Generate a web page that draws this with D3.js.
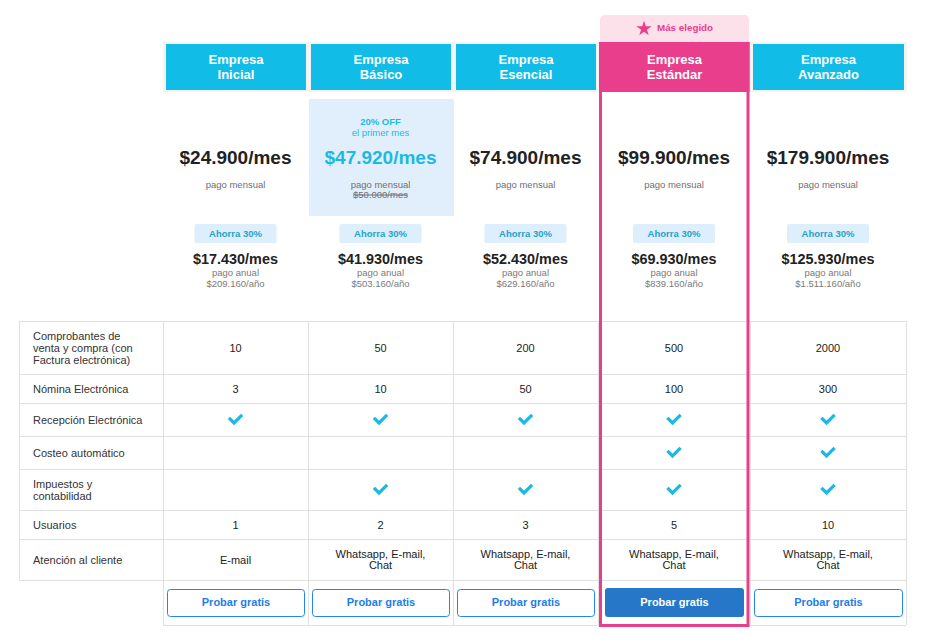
<!DOCTYPE html>
<html><head><meta charset="utf-8">
<script src="https://cdn.jsdelivr.net/npm/d3@7"></script>
<style>
body{margin:0;background:#fff}
svg{display:block;font-family:"Liberation Sans",Arial,Helvetica,sans-serif}
</style>
</head><body>
<svg id="chart" width="939" height="635"></svg>
<script>
// ---------- DATA ----------
const plans = ["Empresa Inicial","Empresa Básico","Empresa Esencial","Empresa Estándar","Empresa Avanzado"];
const featuredPlan = "Empresa Estándar";
const featuredTag = "Más elegido";
const monthlyPrice = [24900, 47920, 74900, 99900, 179900];
const originalPrice = [null, 50000, null, null, null];
const promoLines = [null, ["20% OFF","el primer mes"], null, null, null];
const annualDiscount = [30, 30, 30, 30, 30];
const annualMonthly = [17430, 41930, 52430, 69930, 125930];
const annualTotal = [209160, 503160, 629160, 839160, 1511160];

const featureLabels = [
  "Comprobantes de venta y compra (con Factura electrónica)",
  "Nómina Electrónica",
  "Recepción Electrónica",
  "Costeo automático",
  "Impuestos y contabilidad",
  "Usuarios",
  "Atención al cliente"
];
const comprobantes = [10, 50, 200, 500, 2000];
const nomina = [3, 10, 50, 100, 300];
const recepcion = [true, true, true, true, true];
const costeo = [false, false, false, true, true];
const impuestos = [false, true, true, true, true];
const usuarios = [1, 2, 3, 5, 10];
const atencion = ["E-mail", "Whatsapp, E-mail, Chat", "Whatsapp, E-mail, Chat", "Whatsapp, E-mail, Chat", "Whatsapp, E-mail, Chat"];
const featureValues = [comprobantes, nomina, recepcion, costeo, impuestos, usuarios, atencion];
const ctaLabel = "Probar gratis";

// ---------- LAYOUT ----------
const colEdges = [163, 308, 453, 598, 750, 906];
const labelLeft = 19;
const tableTop = 321;
const rowHeights = [53, 29, 33, 33, 41, 29, 41];
const buttonRowH = 45;

const C = {
  blue: "#11bce7", pink: "#e83e8c", pinkLight: "#fde1ea",
  grid: "#e0e0e0", dark: "#222", text: "#333", grey: "#6f6f6f",
  cyan: "#1cb9e4", badgeBg: "#ddeefc", badgeText: "#25a3c9",
  hiBg: "#e1effd", btn: "#2584ee", btnFill: "#2677c8"
};

const svg = d3.select("#chart");
const fmt = d3.formatLocale({decimal: ",", thousands: ".", grouping: [3], currency: ["$", ""]}).format("$,");

const xStart = d3.scaleOrdinal().domain(plans).range(colEdges.slice(0, 5));
const xWidth = d3.scaleOrdinal().domain(plans).range(colEdges.slice(1).map((e, i) => e - colEdges[i]));
const cx = p => xStart(p) + xWidth(p) / 2;

const rowTops = [];
rowHeights.reduce((acc, h) => { rowTops.push(acc); return acc + h; }, tableTop);
const yTop = d3.scaleOrdinal().domain(featureLabels).range(rowTops);
const yH = d3.scaleOrdinal().domain(featureLabels).range(rowHeights);
const tableBottom = tableTop + d3.sum(rowHeights);
const buttonBottom = tableBottom + buttonRowH;

// word-wrap helper (returns lines)
const measure = svg.append("text").attr("font-size", 11).attr("visibility", "hidden");
function wrap(str, maxW, size) {
  measure.attr("font-size", size);
  const words = str.split(" "); const lines = []; let cur = "";
  words.forEach(w => {
    const t = cur ? cur + " " + w : w;
    measure.text(t);
    if (measure.node().getComputedTextLength() > maxW && cur) { lines.push(cur); cur = w; }
    else cur = t;
  });
  if (cur) lines.push(cur);
  return lines;
}
function multiText(g, lines, x, yc, lh, attrs) {
  const t = g.append("text").attr("x", x).attr("text-anchor", attrs.anchor || "middle")
    .attr("font-size", attrs.size).attr("font-weight", attrs.weight || "normal")
    .attr("fill", attrs.fill).attr("dominant-baseline", "central");
  const y0 = yc - (lines.length - 1) * lh / 2;
  lines.forEach((l, i) => t.append("tspan").attr("x", x).attr("y", y0 + i * lh).text(l));
  return t;
}

// ---------- HEADER ----------
svg.append("rect").attr("x", colEdges[0]).attr("y", 42).attr("width", colEdges[5] - colEdges[0] + 1).attr("height", 50).attr("fill", "#f4f4f4");

// featured tag
const fp = featuredPlan;
const tagX = xStart(fp) + 2, tagW = xWidth(fp) - 3, tagY = 15, tagH = 27, r = 5;
svg.append("path").attr("fill", C.pinkLight)
  .attr("d", `M${tagX},${tagY + tagH} V${tagY + r} Q${tagX},${tagY} ${tagX + r},${tagY} H${tagX + tagW - r} Q${tagX + tagW},${tagY} ${tagX + tagW},${tagY + r} V${tagY + tagH} Z`);
svg.append("path").attr("d", d3.symbol(d3.symbolStar, 72)()).attr("fill", C.pink)
  .attr("transform", `translate(${cx(fp) - 30},${28.8})`);
svg.append("text").attr("x", cx(fp) - 17).attr("y", 27.5).attr("dominant-baseline", "central")
  .attr("font-size", 9.8).attr("font-weight", "bold").attr("fill", C.pink).text(featuredTag);

plans.forEach(p => {
  const isF = p === featuredPlan;
  svg.append("rect")
    .attr("x", isF ? xStart(p) + 1 : xStart(p) + 3)
    .attr("y", isF ? 42 : 44)
    .attr("width", isF ? xWidth(p) - 1.5 : xWidth(p) - 5)
    .attr("height", isF ? 50 : 46)
    .attr("fill", isF ? C.pink : C.blue);
  const parts = p.split(" ");
  multiText(svg, parts, cx(p) + 0.5, 66.5, 15, {size: 13, weight: "bold", fill: "#fff"});
});

// ---------- PRICES ----------
plans.forEach((p, i) => {
  const x = cx(p);
  const promo = promoLines[i];
  if (promo) {
    svg.append("rect").attr("x", xStart(p) + 1).attr("y", 99).attr("width", xWidth(p)).attr("height", 117).attr("fill", C.hiBg);
    svg.append("text").attr("x", x).attr("y", 121).attr("text-anchor", "middle").attr("dominant-baseline", "central")
      .attr("font-size", 9.5).attr("font-weight", "bold").attr("fill", C.cyan).text(promo[0]);
    svg.append("text").attr("x", x).attr("y", 132.5).attr("text-anchor", "middle").attr("dominant-baseline", "central")
      .attr("font-size", 9.5).attr("fill", C.cyan).text(promo[1]);
  }
  svg.append("text").attr("x", x).attr("y", 157.5).attr("text-anchor", "middle").attr("dominant-baseline", "central")
    .attr("font-size", 19).attr("font-weight", "bold").attr("fill", promo ? C.cyan : C.dark)
    .text(fmt(monthlyPrice[i]) + "/mes");
  svg.append("text").attr("x", x).attr("y", 184).attr("text-anchor", "middle").attr("dominant-baseline", "central")
    .attr("font-size", 9.5).attr("fill", C.grey).text("pago mensual");
  if (originalPrice[i] != null) {
    svg.append("text").attr("x", x).attr("y", 194.5).attr("text-anchor", "middle").attr("dominant-baseline", "central")
      .attr("font-size", 9.5).attr("fill", C.grey).attr("text-decoration", "line-through")
      .text(fmt(originalPrice[i]) + "/mes");
  }
  // annual
  svg.append("rect").attr("x", x - 41).attr("y", 224).attr("width", 82).attr("height", 19).attr("rx", 2).attr("fill", C.badgeBg);
  svg.append("text").attr("x", x).attr("y", 233.5).attr("text-anchor", "middle").attr("dominant-baseline", "central")
    .attr("font-size", 9.5).attr("font-weight", "bold").attr("fill", C.badgeText).text(`Ahorra ${annualDiscount[i]}%`);
  svg.append("text").attr("x", x).attr("y", 258.5).attr("text-anchor", "middle").attr("dominant-baseline", "central")
    .attr("font-size", 14.4).attr("font-weight", "bold").attr("fill", C.dark).text(fmt(annualMonthly[i]) + "/mes");
  svg.append("text").attr("x", x).attr("y", 272.5).attr("text-anchor", "middle").attr("dominant-baseline", "central")
    .attr("font-size", 9.5).attr("fill", "#7a7a7a").text("pago anual");
  svg.append("text").attr("x", x).attr("y", 283.5).attr("text-anchor", "middle").attr("dominant-baseline", "central")
    .attr("font-size", 9.5).attr("fill", "#7a7a7a").text(fmt(annualTotal[i]) + "/año");
});

// ---------- TABLE GRID ----------
const grid = svg.append("g").attr("stroke", C.grid).attr("stroke-width", 1).attr("shape-rendering", "crispEdges");
rowTops.concat([tableBottom]).forEach(y => {
  grid.append("line").attr("x1", labelLeft).attr("x2", colEdges[5]).attr("y1", y + 0.5).attr("y2", y + 0.5);
});
grid.append("line").attr("x1", colEdges[0]).attr("x2", colEdges[5]).attr("y1", buttonBottom + 0.5).attr("y2", buttonBottom + 0.5);
grid.append("line").attr("x1", labelLeft + 0.5).attr("x2", labelLeft + 0.5).attr("y1", tableTop).attr("y2", tableBottom);
colEdges.forEach(x => {
  grid.append("line").attr("x1", x + 0.5).attr("x2", x + 0.5).attr("y1", tableTop).attr("y2", buttonBottom);
});

// ---------- TABLE CONTENT ----------
featureLabels.forEach((lab, r) => {
  const yc = yTop(lab) + yH(lab) / 2;
  multiText(svg, wrap(lab, 116, 11), 33, yc, 12, {size: 11, fill: C.text, anchor: "start"});
  plans.forEach((p, i) => {
    const v = featureValues[r][i];
    const x = cx(p);
    if (v === true) {
      svg.append("path").attr("d", `M${x - 5.5},${yc - 0.5} L${x - 1.5},${yc + 3.5} L${x + 5.5},${yc - 3.5}`)
        .attr("fill", "none").attr("stroke", C.cyan).attr("stroke-width", 3.2).attr("stroke-linecap", "square");
    } else if (v === false || v == null) {
      // empty cell
    } else {
      multiText(svg, wrap(String(v), 100, 11), x, yc, 11.5, {size: 11, fill: C.dark});
    }
  });
});

// ---------- BUTTONS ----------
plans.forEach(p => {
  const isF = p === featuredPlan;
  const bx = isF ? xStart(p) + 7 : xStart(p) + 4.5;
  const bw = isF ? xWidth(p) - 13 : xWidth(p) - 8;
  const by = isF ? 588 : 589.5;
  const bh = isF ? 29 : 27;
  svg.append("rect").attr("x", bx).attr("y", by).attr("width", bw).attr("height", bh).attr("rx", 3)
    .attr("fill", isF ? C.btnFill : "#fff").attr("stroke", isF ? "none" : C.btn).attr("stroke-width", 1);
  svg.append("text").attr("x", bx + bw / 2).attr("y", 602).attr("text-anchor", "middle").attr("dominant-baseline", "central")
    .attr("font-size", 11).attr("font-weight", "bold").attr("fill", isF ? "#fff" : "#1e7de6").text(ctaLabel);
});

// ---------- FEATURED BORDER ----------
svg.append("rect").attr("x", xStart(fp) + 2.5).attr("y", 43.5).attr("width", xWidth(fp) - 4.5)
  .attr("height", buttonBottom - 43.5 + 0.5).attr("fill", "none").attr("stroke", C.pink).attr("stroke-width", 3);
measure.remove();
</script>
</body></html>
